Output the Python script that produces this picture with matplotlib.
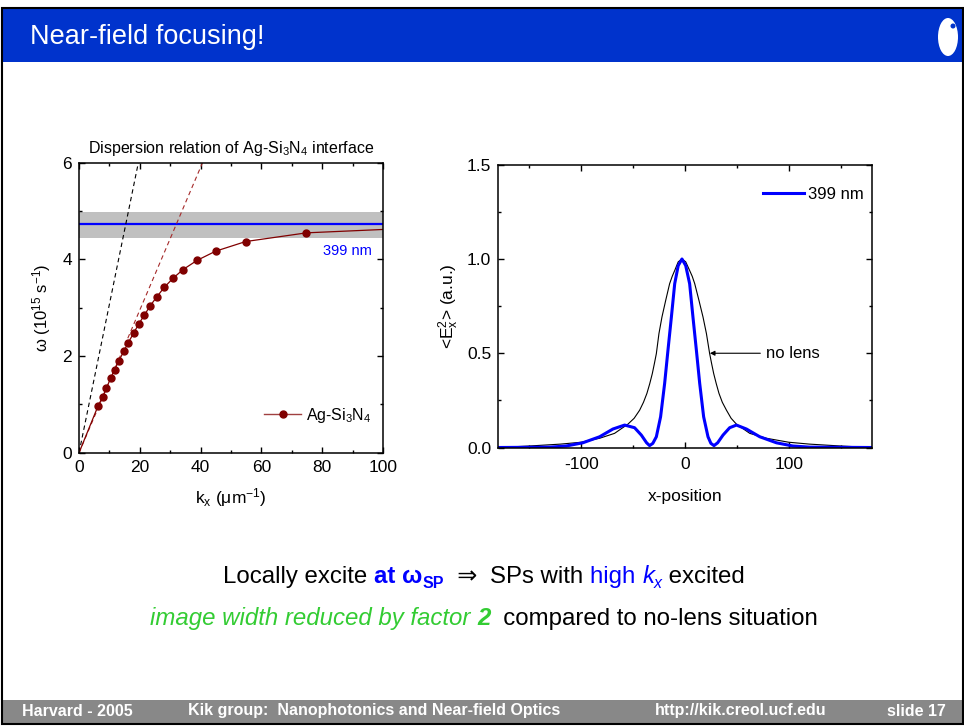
import matplotlib
matplotlib.use('Agg')
import matplotlib.pyplot as plt
from matplotlib.patches import Rectangle, Ellipse, Circle
from matplotlib.lines import Line2D
from matplotlib.ticker import MultipleLocator, FormatStrFormatter

# dispersion relation of the Ag-Si3N4 interface
disp_k = [6.2, 7.8, 9.0, 10.4, 11.7, 13.1, 14.7, 16.2, 18.0, 19.6,
          21.4, 23.4, 25.5, 28.0, 30.9, 34.2, 38.8, 44.9, 54.8, 74.8]
disp_w = [0.96, 1.16, 1.34, 1.54, 1.72, 1.90, 2.10, 2.28, 2.48, 2.66,
          2.84, 3.04, 3.22, 3.42, 3.61, 3.79, 3.98, 4.17, 4.37, 4.55]
fit_k = [0] + disp_k + [100]
fit_w = [0] + disp_w + [4.62]
light_k = [0, 19.5]
light_w = [0, 6]
light_si3n4_k = [0, 40.6]
light_si3n4_w = [0, 6]
band_lo, band_hi = 4.45, 4.99
w_399 = 4.73

# field intensity profiles
nolens_x = [-180, -150, -120, -100, -82.3, -67.9, -55, -49, -43.7, -40, -36.7, -34,
            -31.5, -29.5, -27.6, -25.1, -22.2, -18.6, -14.8, -12.3, -9.9, -6.5, -2.9,
            0.7, 4.5, 7, 9.4, 13.5, 17.4, 20.7, 23.8, 25.7, 27.7, 30.2, 32.8, 36,
            40, 44.5, 49.6, 62.5, 78.6, 100, 120, 150, 180]
nolens_y = [0.0, 0.008, 0.018, 0.028, 0.049, 0.075, 0.124, 0.155, 0.198, 0.24, 0.287,
            0.338, 0.392, 0.445, 0.498, 0.604, 0.692, 0.78, 0.869, 0.908, 0.939, 0.985, 1.0,
            0.985, 0.939, 0.908, 0.869, 0.78, 0.692, 0.604, 0.498, 0.445, 0.392, 0.338,
            0.287, 0.24, 0.198, 0.155, 0.124, 0.075, 0.049, 0.028, 0.018, 0.008, 0.0]
lens_x = [-180, -130, -114.5, -98.5, -82.3, -69.5, -58.2, -48.6, -42.1, -37, -34.1,
          -31, -27.6, -23.5, -19.6, -16.4, -13.1, -9.9, -6.5, -2.9, 0.7, 4.5, 7.7, 11,
          14.2, 18, 22.2, 25, 28, 31.5, 36.7, 43.1, 49.6, 59.3, 72.1, 88.2, 104, 120, 180]
lens_y = [0.0, 0.002, 0.008, 0.025, 0.057, 0.098, 0.119, 0.105, 0.066, 0.025, 0.01,
          0.022, 0.057, 0.163, 0.34, 0.516, 0.692, 0.869, 0.965, 1.0, 0.965, 0.869, 0.692, 0.516,
          0.34, 0.163, 0.057, 0.022, 0.01, 0.025, 0.066, 0.105, 0.119, 0.098, 0.057, 0.025, 0.008, 0.002, 0.0]

plt.rcParams['font.family'] = ['Liberation Sans', 'DejaVu Sans']
plt.rcParams['mathtext.fontset'] = 'custom'
plt.rcParams['mathtext.rm'] = 'Liberation Sans'
plt.rcParams['mathtext.it'] = 'Liberation Sans:italic'
plt.rcParams['mathtext.bf'] = 'Liberation Sans:bold'
plt.rcParams['mathtext.default'] = 'regular'
plt.rcParams['axes.unicode_minus'] = False

fig = plt.figure(figsize=(9.64, 7.26), dpi=100)

# slide background, drawn in pixel coordinates
bg = fig.add_axes([0, 0, 1, 1], zorder=0)
bg.set_xlim(0, 964)
bg.set_ylim(726, 0)
bg.axis('off')
bg.add_patch(Rectangle((2, 8), 960, 54, color='#0033cc', lw=0))
bg.add_patch(Rectangle((2, 700), 960, 23, color='#888888', lw=0))
bg.add_patch(Rectangle((1.5, 7.5), 961, 716, fill=False, ec='black', lw=1.5))
bg.add_patch(Ellipse((948, 37), 20, 38, color='white', lw=0))
bg.add_patch(Circle((953, 26), 2.5, color='#0033cc', lw=0))
bg.text(30, 37, 'Near-field focusing!', color='white', fontsize=19.5, va='center')

foot = dict(color='white', fontsize=11.5, fontweight='bold', va='center')
bg.text(22, 711, 'Harvard - 2005', **foot)
bg.text(188, 711, 'Kik group:  Nanophotonics and Near-field Optics', **foot)
bg.text(655, 711, 'http://kik.creol.ucf.edu', **foot)
bg.text(946, 711, 'slide 17', ha='right', **foot)

renderer = fig.canvas.get_renderer()


def text_width(s, kw):
    # bars on both sides keep the spaces in the measurement
    t1 = bg.text(0, 0, '|' + s + '|', **kw)
    t2 = bg.text(0, 0, '||', **kw)
    w = t1.get_window_extent(renderer).width - t2.get_window_extent(renderer).width
    t1.remove()
    t2.remove()
    return w


def rich_line(y, pieces, xc=484):
    widths = [text_width(s, kw) for s, kw, dy in pieces]
    x = xc - sum(widths) / 2
    for (s, kw, dy), w in zip(pieces, widths):
        bg.text(x, y + dy, s, va='baseline', **kw)
        x += w


big = 17.3
blk = dict(fontsize=big, color='black')
blue_b = dict(fontsize=big, color='#0000ff', fontweight='bold')
blue = dict(fontsize=big, color='#0000ff')
green_i = dict(fontsize=big, color='#33cc33', style='italic')

rich_line(583, [
    ('Locally excite ', blk, 0),
    ('at ', blue_b, 0),
    ('ω', blue_b, 0),
    ('SP', dict(blue_b, fontsize=11.5), 5),
    ('  ⇒  ', blk, 0),
    ('SPs with ', blk, 0),
    ('high ', blue, 0),
    ('k', dict(blue, style='italic'), 0),
    ('x', dict(blue, style='italic', fontsize=11.5), 5),
    (' excited', blk, 0),
])
rich_line(625, [
    ('image width reduced by factor ', green_i, 0),
    ('2', dict(green_i, fontweight='bold'), 0),
    ('  compared to no-lens situation', blk, 0),
])

# left: dispersion relation
ax1 = fig.add_axes([0.0820, 0.3764, 0.3154, 0.3994])
ax1.axhspan(band_lo, band_hi, color='#c0c0c0', lw=0, zorder=0)
ax1.axhline(w_399, color='#0000ff', lw=1.6, zorder=1)
ax1.plot(light_k, light_w, color='black', lw=0.8, dashes=(4, 3))
ax1.plot(light_si3n4_k, light_si3n4_w, color='#a52a2a', lw=0.8, dashes=(4, 3))
ax1.plot(fit_k, fit_w, color='#800000', lw=0.9)
ax1.plot(disp_k, disp_w, 'o', color='#800000', ms=5)
ax1.text(88.4, 4.17, '399 nm', color='#0000ff', fontsize=10.5, ha='center', va='center')
ax1.set_xlim(0, 100)
ax1.set_ylim(0, 6)
ax1.xaxis.set_major_locator(MultipleLocator(20))
ax1.xaxis.set_minor_locator(MultipleLocator(10))
ax1.yaxis.set_major_locator(MultipleLocator(2))
ax1.yaxis.set_minor_locator(MultipleLocator(1))
ax1.set_title('Dispersion relation of Ag-Si$_3$N$_4$ interface', fontsize=11.5, pad=7)
ax1.set_xlabel('k$_x$ (μm$^{-1}$)', fontsize=12.5, labelpad=8)
ax1.set_ylabel('ω (10$^{15}$ s$^{-1}$)', fontsize=12)
ax1.yaxis.set_label_coords(-0.086, 0.5)
handle = Line2D([], [], color='#a04040', lw=1, marker='o', mfc='#800000', mec='#800000', ms=5)
ax1.legend(handles=[handle], labels=['Ag-Si$_3$N$_4$'], loc='center left',
           bbox_to_anchor=(0.609, 0.13), frameon=False, fontsize=11.5,
           handlelength=2.3, handletextpad=0.3, borderpad=0, borderaxespad=0)

# right: focal spot
ax2 = fig.add_axes([0.5169, 0.3836, 0.3873, 0.3895])
ax2.plot(nolens_x, nolens_y, color='black', lw=0.8)
line399, = ax2.plot(lens_x, lens_y, color='#0000ff', lw=2.2)
ax2.annotate('no lens', xy=(24, 0.5), xytext=(78, 0.5), fontsize=12, va='center',
             arrowprops=dict(arrowstyle='-|>', color='black', lw=0.8,
                             mutation_scale=7, shrinkA=2, shrinkB=0))
ax2.set_xlim(-180, 180)
ax2.set_ylim(0, 1.5)
ax2.xaxis.set_major_locator(MultipleLocator(100))
ax2.xaxis.set_minor_locator(MultipleLocator(50))
ax2.yaxis.set_major_locator(MultipleLocator(0.5))
ax2.yaxis.set_minor_locator(MultipleLocator(0.25))
ax2.yaxis.set_major_formatter(FormatStrFormatter('%.1f'))
ax2.set_xlabel('x-position', fontsize=12.5, labelpad=12)
ax2.set_ylabel('<E$_x^2$> (a.u.)', fontsize=12.5)
ax2.yaxis.set_label_coords(-0.1, 0.5)
ax2.legend(handles=[line399], labels=['399 nm'], loc='center left',
           bbox_to_anchor=(0.708, 0.895), frameon=False, fontsize=12,
           handlelength=2.5, handletextpad=0.2, borderpad=0, borderaxespad=0)

for ax in (ax1, ax2):
    ax.tick_params(which='both', direction='in', top=True, right=True, width=1,
                   labelsize=12.5, pad=5)
    ax.tick_params(which='major', length=4.5)
    ax.tick_params(which='minor', length=2.5)
    for sp in ax.spines.values():
        sp.set_linewidth(1.1)
ax2.tick_params(axis='x', which='both', pad=7)

fig.savefig('out.png', dpi=100)
